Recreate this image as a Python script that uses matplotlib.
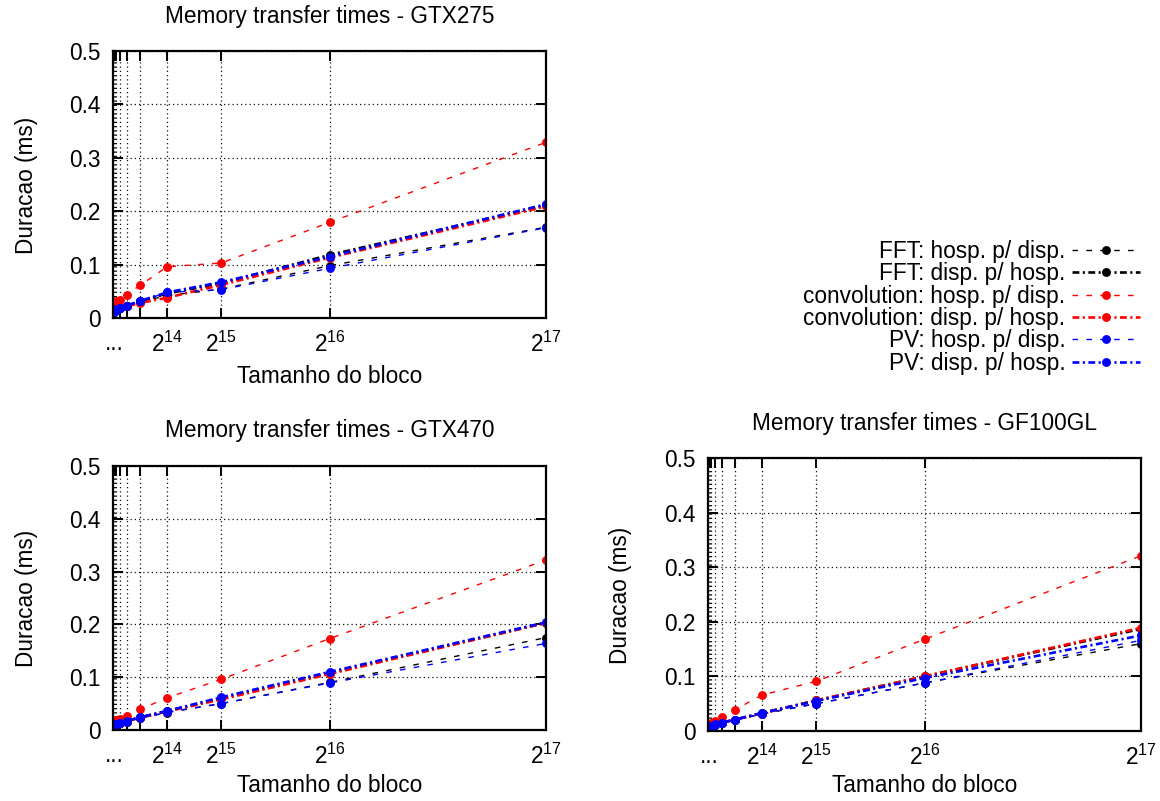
import matplotlib
matplotlib.use("Agg")
import matplotlib.pyplot as plt

plt.rcParams['font.family'] = ['Liberation Sans', 'DejaVu Sans']
plt.rcParams['mathtext.fontset'] = 'custom'
plt.rcParams['mathtext.rm'] = 'Liberation Sans'
plt.rcParams['mathtext.it'] = 'Liberation Sans'

# ---------------- data ----------------
block_sizes = [2**8, 2**9, 2**10, 2**11, 2**12, 2**13, 2**14, 2**15, 2**16, 2**17]
tick_positions = [2**k for k in range(8, 18)]
tick_labels = ['...', '', '', '', '', '', r'$\mathregular{2^{14}}$', r'$\mathregular{2^{15}}$',
               r'$\mathregular{2^{16}}$', r'$\mathregular{2^{17}}$']
y_ticks = [0, 0.1, 0.2, 0.3, 0.4, 0.5]
y_tick_labels = ['0', '0.1', '0.2', '0.3', '0.4', '0.5']

series_labels = ['FFT: hosp. p/ disp.', 'FFT: disp. p/ hosp.',
                 'convolution: hosp. p/ disp.', 'convolution: disp. p/ hosp.',
                 'PV: hosp. p/ disp.', 'PV: disp. p/ hosp.']

gtx275_fft_h2d = [0.012, 0.013, 0.015, 0.018, 0.022, 0.030, 0.042, 0.054, 0.098, 0.170]
gtx275_fft_d2h = [0.012, 0.013, 0.015, 0.018, 0.023, 0.031, 0.046, 0.065, 0.118, 0.211]
gtx275_conv_h2d = [0.024, 0.027, 0.031, 0.034, 0.044, 0.061, 0.096, 0.103, 0.179, 0.329]
gtx275_conv_d2h = [0.013, 0.014, 0.016, 0.019, 0.022, 0.028, 0.038, 0.062, 0.113, 0.209]
gtx275_pv_h2d = [0.012, 0.013, 0.015, 0.018, 0.022, 0.031, 0.048, 0.053, 0.093, 0.169]
gtx275_pv_d2h = [0.013, 0.014, 0.016, 0.019, 0.023, 0.032, 0.048, 0.067, 0.115, 0.213]

gtx470_fft_h2d = [0.009, 0.010, 0.011, 0.013, 0.016, 0.022, 0.033, 0.050, 0.090, 0.175]
gtx470_fft_d2h = [0.010, 0.011, 0.012, 0.014, 0.017, 0.024, 0.036, 0.060, 0.108, 0.203]
gtx470_conv_h2d = [0.013, 0.015, 0.018, 0.021, 0.027, 0.039, 0.061, 0.096, 0.173, 0.322]
gtx470_conv_d2h = [0.010, 0.011, 0.012, 0.014, 0.017, 0.023, 0.035, 0.058, 0.106, 0.203]
gtx470_pv_h2d = [0.009, 0.010, 0.011, 0.013, 0.016, 0.022, 0.034, 0.050, 0.089, 0.164]
gtx470_pv_d2h = [0.010, 0.011, 0.012, 0.014, 0.017, 0.024, 0.036, 0.062, 0.110, 0.204]

gf100_fft_h2d = [0.007, 0.008, 0.009, 0.011, 0.014, 0.020, 0.031, 0.050, 0.088, 0.160]
gf100_fft_d2h = [0.008, 0.009, 0.010, 0.012, 0.015, 0.021, 0.033, 0.056, 0.100, 0.187]
gf100_conv_h2d = [0.010, 0.012, 0.015, 0.019, 0.026, 0.039, 0.066, 0.091, 0.168, 0.321]
gf100_conv_d2h = [0.008, 0.009, 0.010, 0.012, 0.015, 0.021, 0.032, 0.056, 0.100, 0.189]
gf100_pv_h2d = [0.007, 0.008, 0.009, 0.011, 0.014, 0.020, 0.032, 0.050, 0.088, 0.166]
gf100_pv_d2h = [0.008, 0.009, 0.010, 0.012, 0.015, 0.021, 0.033, 0.055, 0.097, 0.175]

panels = [
    ('Memory transfer times - GTX275',
     [gtx275_fft_h2d, gtx275_fft_d2h, gtx275_conv_h2d, gtx275_conv_d2h, gtx275_pv_h2d, gtx275_pv_d2h]),
    ('Memory transfer times - GTX470',
     [gtx470_fft_h2d, gtx470_fft_d2h, gtx470_conv_h2d, gtx470_conv_d2h, gtx470_pv_h2d, gtx470_pv_d2h]),
    ('Memory transfer times - GF100GL',
     [gf100_fft_h2d, gf100_fft_d2h, gf100_conv_h2d, gf100_conv_d2h, gf100_pv_h2d, gf100_pv_d2h]),
]

# ---------------- styles ----------------
colors = ['black', 'black', '#ff0000', '#ff0000', '#0000ff', '#0000ff']
dashed = (0, (4, 6))
dashdot = (0, (2.6, 1.3, 0.8, 1.3))
styles = [dashed, dashdot, dashed, dashdot, dashed, dashdot]
widths = [1.0, 1.9, 1.0, 1.9, 1.0, 1.9]

W, H = 1160, 801
fig = plt.figure(figsize=(W / 100, H / 100), dpi=100)
FS = 16.3

# axes rectangles in pixels: left, right, top, bottom
rects = [(113, 546, 51, 318), (113, 546, 466, 730), (708, 1141, 458, 731)]
title_pos = [(330, 17), (330, 430), (925, 424)]
xlabel_pos = [(330, 376), (330, 786), (925, 786)]
ylabel_pos = [(27, 185), (27, 598), (621, 595)]

handles = None
for (title, data), (l, r, t, b), tp, xp, yp in zip(panels, rects, title_pos, xlabel_pos, ylabel_pos):
    ax = fig.add_axes([l / W, 1 - b / H, (r - l) / W, (b - t) / H])
    hs = []
    for vals, c, ls, lw, lab in zip(data, colors, styles, widths, series_labels):
        h, = ax.plot(block_sizes, vals, color=c, linestyle=ls, linewidth=lw,
                     marker='o', markersize=6.4, markeredgewidth=0, label=lab)
        hs.append(h)
    if handles is None:
        handles = hs
    ax.set_xlim(0, 2**17)
    ax.set_ylim(0, 0.5)
    ax.set_xticks(tick_positions)
    ax.set_xticklabels(tick_labels, fontsize=FS)
    ax.set_yticks(y_ticks)
    ax.set_yticklabels(y_tick_labels, fontsize=FS)
    ax.tick_params(axis='both', direction='in', length=7, width=1.4,
                   top=True, right=True)
    ax.tick_params(axis='x', pad=10)
    ax.tick_params(axis='y', pad=9)
    ax.grid(True, color='#111111', linestyle=(0, (1, 2.4)), linewidth=0.9)
    for s in ax.spines.values():
        s.set_linewidth(1.6)
    fig.text(tp[0] / W, 1 - tp[1] / H, title, ha='center', va='center', fontsize=FS)
    fig.text(xp[0] / W, 1 - xp[1] / H, 'Tamanho do bloco', ha='center', va='center', fontsize=FS)
    fig.text(yp[0] / W, 1 - yp[1] / H, 'Duracao (ms)', ha='center', va='center',
             rotation=90, fontsize=FS)

leg = fig.legend(handles=handles, loc='upper right', bbox_to_anchor=(1140 / W, 1 - 240 / H),
                 frameon=False, markerfirst=False, numpoints=1, fontsize=FS,
                 handlelength=3.0, handletextpad=0.3, labelspacing=-0.03, borderpad=0,
                 borderaxespad=0)

fig.savefig('out.png', dpi=100)
